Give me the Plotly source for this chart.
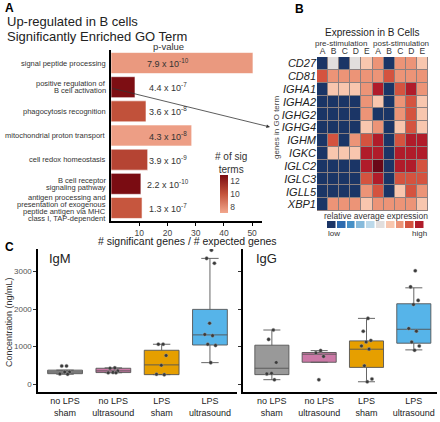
import plotly.graph_objects as go

W, H = 440, 422
FONT = "Liberation Sans, Arial, sans-serif"

# ---------------- Panel A data ----------------
GO_TERMS = [
    "signal peptide processing",
    "positive regulation of<br>B cell activation",
    "phagocytosis recognition",
    "mitochondrial proton transport",
    "cell redox homeostasis",
    "B cell receptor<br>signaling pathway",
    "antigen processing and<br>presentation of exogenous<br>peptide antigen via MHC<br>class I, TAP-dependent",
]
ENRICHMENT = [50.3, 8.5, 12.4, 28.6, 13.0, 10.6, 11.0]
N_SIG_TERMS = [7.6, 12.8, 10.1, 7.4, 10.6, 12.9, 9.9]
P_MANTISSA = ["7.9", "4.4", "3.6", "4.3", "3.9", "2.2", "1.3"]
P_EXPONENT = [-10, -7, -8, -8, -9, -10, -7]
ENRICH_TICKS = [10, 20, 30, 40, 50]
SIG_TICKS = [8, 10, 12]

# ---------------- Panel B data ----------------
GENES = ["CD27", "CD81", "IGHA1", "IGHA2", "IGHG2", "IGHG4",
         "IGHM", "IGKC", "IGLC2", "IGLC3", "IGLL5", "XBP1"]
SAMPLES = ["A", "B", "C", "D", "E", "A", "B", "C", "D", "E"]
# expression level (1 = lowest ... 11 = highest)
EXPR_LEVELS = [
    [1, 6, 1, 6, 7, 8, 1, 8, 8, 7],
    [9, 8, 8, 8, 8, 8, 9, 8, 8, 8],
    [1, 7, 7, 7, 8, 10, 1, 9, 10, 8],
    [1, 1, 1, 1, 8, 7, 1, 8, 9, 7],
    [1, 1, 1, 1, 8, 1, 1, 8, 9, 7],
    [1, 1, 1, 1, 7, 8, 1, 7, 9, 7],
    [1, 9, 1, 8, 9, 10, 1, 9, 10, 10],
    [1, 7, 7, 7, 10, 10, 1, 10, 10, 10],
    [1, 1, 1, 1, 10, 11, 1, 10, 10, 9],
    [1, 1, 1, 1, 9, 10, 1, 9, 9, 9],
    [1, 1, 1, 1, 8, 9, 1, 7, 9, 8],
    [1, 8, 8, 8, 7, 8, 8, 8, 8, 7],
]
LEGEND_LEVELS = [1, 2, 3, 4, 5, 6, 7, 8, 9, 10]
PALETTE = ['#1B3566', '#2C6AAE', '#4690C6', '#86BADB', '#BCD9EA', '#E2DEDD',
           '#F8C6AE', '#EC9477', '#D4533F', '#B01C2A', '#6A0818']
GRID_COLOR = '#8c8080'

# ---------------- Panel C data ----------------
GROUPS = ["no LPS<br>sham", "no LPS<br>ultrasound", "LPS<br>sham", "LPS<br>ultrasound"]
GROUP_COLORS = ['#999999', '#CC79A7', '#E69F00', '#56B4E9']
CONC_TICKS = [0, 1000, 2000, 3000]

IGM_POINTS = [
    [480, 480, 320, 320, 270, 260],
    [430, 420, 350, 310, 300, 300],
    [1060, 1060, 760, 500, 260, 250],
    [3570, 3350, 3220, 1620, 1320, 1290, 1060, 1030, 570],
]
# q1, median, q3, lower whisker, upper whisker
IGM_STATS = [
    [275, 320, 370, 260, 370],
    [305, 350, 420, 300, 430],
    [250, 510, 900, 250, 1060],
    [1040, 1310, 1990, 570, 3350],
]
IGG_POINTS = [
    [1440, 1190, 575, 285, 270, 115],
    [890, 830, 735, 115],
    [1750, 1405, 1160, 1120, 1015, 930, 486, 135, 60],
    [3020, 2590, 2230, 2120, 1480, 1410, 1120, 1015, 900],
]
IGG_STATS = [
    [250, 420, 1035, 115, 1440],
    [580, 795, 840, 580, 890],
    [443, 928, 1150, 60, 1750],
    [1088, 1459, 2140, 910, 2565],
]


def xd(a, b):
    return [a / W, b / W]


def yd(top, bottom):
    return [1 - bottom / H, 1 - top / H]


def px(x):
    return x / W


def py(y):
    return 1 - y / H


fig = go.Figure()

# ---- Panel A bars ----
fig.add_trace(go.Bar(
    x=ENRICHMENT, y=GO_TERMS, orientation='h', width=0.87,
    marker=dict(
        color=N_SIG_TERMS,
        colorscale=[[0, '#F2A78D'], [0.5, '#C4533B'], [1, '#7A0C12']],
        cmin=7.1, cmax=12.9,
        line=dict(color='white', width=0.6),
        colorbar=dict(
            x=px(220), xanchor='left', y=py(213), yanchor='bottom',
            len=38 / H, lenmode='fraction', thickness=8, xpad=0, ypad=0,
            tickvals=SIG_TICKS, ticks='', outlinewidth=0,
            tickfont=dict(size=8.5, color='#444', family=FONT),
        ),
    ),
    xaxis='x', yaxis='y', showlegend=False, hoverinfo='x+y',
))

# ---- Panel B heatmap ----
n = len(PALETTE)
cscale = []
for i, c in enumerate(PALETTE):
    cscale.append([i / n, c])
    cscale.append([(i + 1) / n, c])

# uniform grey backdrop that shows through the cell gaps
fig.add_trace(go.Heatmap(
    z=[[0] * len(SAMPLES) for _ in GENES], x=list(range(len(SAMPLES))),
    y=list(range(len(GENES))), colorscale=[[0, GRID_COLOR], [1, GRID_COLOR]],
    showscale=False, hoverinfo='skip', xaxis='x2', yaxis='y2',
))
fig.add_trace(go.Heatmap(
    z=EXPR_LEVELS, x=list(range(len(SAMPLES))), y=list(range(len(GENES))),
    colorscale=cscale, zmin=0.5, zmax=n + 0.5, showscale=False,
    xgap=1, ygap=1, xaxis='x2', yaxis='y2',
))
fig.add_trace(go.Heatmap(
    z=[LEGEND_LEVELS], x=list(range(len(LEGEND_LEVELS))), y=[0],
    colorscale=cscale, zmin=0.5, zmax=n + 0.5, showscale=False,
    xgap=1.5, ygap=0, xaxis='x3', yaxis='y3', hoverinfo='skip',
))


# ---- Panel C boxes ----
def jitter_offsets(k, spread=0.13):
    # deterministic horizontal jitter (golden-ratio sequence)
    return [(((j + 1) * 0.6180339) % 1 - 0.5) * 2 * spread for j in range(k)]


def add_boxes(points, stats, xa, ya):
    for gi, (col, pts, st) in enumerate(zip(GROUP_COLORS, points, stats)):
        q1, med, q3, lo, hi = st
        fig.add_trace(go.Box(
            x=[gi], q1=[q1], median=[med], q3=[q3], lowerfence=[lo], upperfence=[hi],
            fillcolor=col, line=dict(color='#555555', width=0.9), width=0.72,
            boxpoints=False, xaxis=xa, yaxis=ya, showlegend=False,
        ))
        fig.add_trace(go.Scatter(
            x=[gi + o for o in jitter_offsets(len(pts))], y=pts, mode='markers',
            marker=dict(size=3.6, color='#3a3a3a', line=dict(color='#aaaaaa', width=0.4)),
            xaxis=xa, yaxis=ya, showlegend=False, hoverinfo='y',
        ))


add_boxes(IGM_POINTS, IGM_STATS, 'x4', 'y4')
add_boxes(IGG_POINTS, IGG_STATS, 'x5', 'y5')

axis_common = dict(showgrid=False, zeroline=False, mirror=False)
conc_range = [-213, 3600]
grp_idx = list(range(len(GROUPS)))

fig.update_layout(
    width=W, height=H, margin=dict(l=0, r=0, t=0, b=0),
    paper_bgcolor='white', plot_bgcolor='white',
    font=dict(family=FONT, color='black'),
    boxmode='overlay', bargap=0.13, hovermode=False, dragmode=False,
    xaxis=dict(domain=xd(111, 262), range=[0, 53.5], tickvals=ENRICH_TICKS,
               ticks='outside', ticklen=3, tickcolor='black',
               showline=True, linecolor='black', linewidth=1.6,
               tickfont=dict(size=8.5, color='#444'), anchor='y', **axis_common),
    yaxis=dict(domain=yd(50, 221), type='category', categoryarray=GO_TERMS,
               range=[6.54, -0.54], showline=True, linecolor='black', linewidth=1.6,
               ticks='', showticklabels=False, anchor='x', **axis_common),
    xaxis2=dict(domain=xd(317, 428), range=[-0.5, 9.5], side='top',
                tickvals=list(range(len(SAMPLES))), ticktext=SAMPLES, ticks='',
                tickfont=dict(size=8.5, color='#333'), anchor='y2', showline=False,
                **axis_common),
    yaxis2=dict(domain=yd(57, 211), range=[11.5, -0.5],
                tickvals=list(range(len(GENES))), ticktext=[f"<i>{g}</i>" for g in GENES],
                ticks='', tickfont=dict(size=11, color='#222'), anchor='x2', showline=False,
                **axis_common),
    xaxis3=dict(domain=xd(327, 425), range=[-0.5, 9.5], showticklabels=False, ticks='',
                showline=False, anchor='y3', **axis_common),
    yaxis3=dict(domain=yd(221, 228), range=[-0.5, 0.5], showticklabels=False, ticks='',
                showline=False, anchor='x3', **axis_common),
    xaxis4=dict(domain=xd(38, 237), range=[-0.56, 3.56], tickvals=grp_idx, ticktext=GROUPS,
                showline=True, linecolor='black', linewidth=1.6,
                ticks='', tickfont=dict(size=9, color='#222'), anchor='y4', **axis_common),
    yaxis4=dict(domain=yd(249, 392), range=conc_range, tickvals=CONC_TICKS,
                ticks='outside', ticklen=3, tickcolor='#333',
                showline=True, linecolor='black', linewidth=1.6,
                tickfont=dict(size=8, color='#555'), anchor='x4', **axis_common),
    xaxis5=dict(domain=xd(243, 437), range=[-0.61, 3.49], tickvals=grp_idx, ticktext=GROUPS,
                showline=True, linecolor='black', linewidth=1.6,
                ticks='', tickfont=dict(size=9, color='#222'), anchor='y5', **axis_common),
    yaxis5=dict(domain=yd(249, 392), range=conc_range, tickvals=CONC_TICKS,
                showticklabels=False, ticks='outside', ticklen=3, tickcolor='#333',
                showline=True, linecolor='black', linewidth=1.6,
                anchor='x5', **axis_common),
)

ann = []


def text(x, y, s, size, xanchor='center', yanchor='middle', color='black', angle=0, bold=False):
    if bold:
        s = f"<b>{s}</b>"
    ann.append(dict(x=px(x), y=py(y), xref='paper', yref='paper', text=s, showarrow=False,
                    xanchor=xanchor, yanchor=yanchor, textangle=angle,
                    font=dict(size=size, color=color, family=FONT)))


# Panel letters
text(3, 8, "A", 12, xanchor='left', bold=True)
text(293, 9, "B", 12, xanchor='left', bold=True)
text(3, 247, "C", 12, xanchor='left', bold=True)

# Panel A texts
text(5, 21, "Up-regulated in B cells", 13, xanchor='left', color='#222')
text(5, 37, "Significantly Enriched GO Term", 13, xanchor='left', color='#222')
text(168, 46, "p-value", 9.5, color='#333')
text(187, 241, "# significant genes / # expected genes", 10.5, color='#222')
text(213, 163, "# of sig<br>terms", 10, xanchor='left', color='#333')

# GO-term category labels, one line each with tight leading
LINE_STEP = 7.3
for term in GO_TERMS:
    lines = term.split("<br>")
    k = len(lines)
    for i, line in enumerate(lines):
        ann.append(dict(x=px(108), y=term, xref='paper', yref='y', showarrow=False,
                        xanchor='right', yanchor='middle', text=line,
                        yshift=((k - 1) / 2 - i) * LINE_STEP,
                        font=dict(size=7.5, color='#333', family=FONT)))

for term, m, e in zip(GO_TERMS, P_MANTISSA, P_EXPONENT):
    ann.append(dict(x=20.3, y=term, xref='x', yref='y', showarrow=False,
                    text=f"{m} x 10<sup>{e}</sup>",
                    font=dict(size=9, color='#333', family=FONT)))

# arrow from GO term to heatmap
ann.append(dict(x=px(270), y=py(127), xref='paper', yref='paper', text='',
                showarrow=True, ax=111 - 270, ay=88 - 127, axref='pixel', ayref='pixel',
                arrowhead=2, arrowsize=0.9, arrowwidth=0.8, arrowcolor='#333'))

# Panel B texts
text(372, 33, "Expression in B Cells", 10, color='#222')
text(341, 43, "pre-stimulation", 8, color='#333')
text(401, 43, "post-stimulation", 8, color='#333')
text(276, 128, "genes in GO term", 8, angle=-90, color='#444')
text(376, 216, "relative average expression", 8.5, color='#333')
text(334, 233, "low", 8, color='#333')
text(419, 233, "high", 8, color='#333')

# Panel C texts
text(47, 258, "IgM", 13, xanchor='left', color='#222')
text(254, 258, "IgG", 13, xanchor='left', color='#222')
text(9, 322, "Concentration (ng/mL)", 9, angle=-90, color='#333')

fig.update_layout(annotations=ann)

fig.write_html("out.html", config={'displayModeBar': False, 'staticPlot': True},
               post_script="document.body.style.margin='0';document.body.style.padding='0';")
